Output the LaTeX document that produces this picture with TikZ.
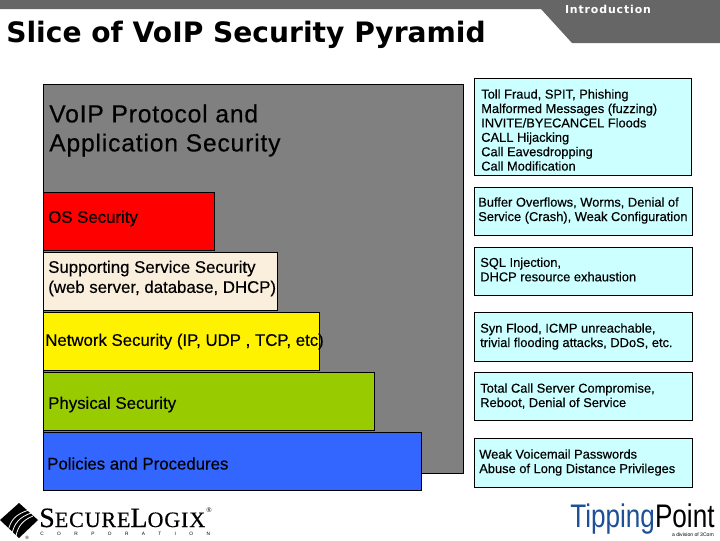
\documentclass[tikz,border=0pt]{standalone}
\usepackage{fontspec}
\setmainfont{Liberation Sans}
\newfontfamily\heavyfont[FakeBold=0.35]{Liberation Sans}
\newfontfamily\heavywide[FakeBold=0.35,LetterSpace=3.3]{Liberation Sans}
\newfontfamily\logoserif[LetterSpace=4,FakeBold=0.4]{Liberation Serif}
\newfontfamily\spacedsans[LetterSpace=280]{Liberation Sans}
\newfontfamily\introfont[LetterSpace=8]{DejaVu Sans}
\newfontfamily\titlefont{DejaVu Sans}
\newfontfamily\tipfont[FakeStretch=0.8]{Liberation Sans}
\definecolor{bargray}{RGB}{102,102,102}
\definecolor{pyrgray}{RGB}{128,128,128}
\definecolor{cream}{RGB}{250,238,220}
\definecolor{leafgreen}{RGB}{153,204,0}
\definecolor{layerblue}{RGB}{51,102,255}
\definecolor{notecyan}{RGB}{204,255,255}
\definecolor{tipblue}{RGB}{30,80,150}
\tikzset{
  layer/.style={draw=black,line width=0.75pt,anchor=north west,inner sep=0pt},
  layertext/.style={anchor=west,inner sep=0pt,align=left,font=\heavyfont\fontsize{12.6}{15}\selectfont},
  note/.style={draw=black,line width=0.5pt,fill=notecyan,anchor=north west,inner sep=0pt},
  notetext/.style={anchor=west,inner sep=0pt,align=left,font=\heavyfont\fontsize{9.65}{10.8}\selectfont}
}
\begin{document}
\begin{tikzpicture}[x=0.75pt,y=0.75pt,yscale=-1,xscale=1]
\useasboundingbox (0,0) rectangle (720,540);
%header band
\fill [bargray] (0,0) -- (720,0) -- (720,43) -- (572,43) -- (541,9) -- (0,9) -- cycle ;
\node (intro) [anchor=center,inner sep=0pt,text=white,font=\introfont\bfseries\fontsize{8.2}{10}\selectfont] at (608,9) {Introduction};
\node (title) [anchor=west,inner sep=0pt,font=\titlefont\bfseries\fontsize{21.1}{24}\selectfont] at (6,34.5) {Slice of VoIP Security Pyramid};
%pyramid
\draw [fill=pyrgray,line width=0.75pt] (43,84) rectangle (463.5,473.5);
\node (voip) [anchor=west,inner sep=0pt,align=left,font=\heavywide\fontsize{18.5}{21.8}\selectfont] at (49,130.5) {VoIP Protocol and\\Application Security};
\node (os) [layer,fill=red,minimum width=171*0.75pt,minimum height=57.5*0.75pt] at (43,192) {};
\node (ostext) [layertext] at (48,218.5) {OS Security};
\node (service) [layer,fill=cream,minimum width=234*0.75pt,minimum height=57.5*0.75pt] at (43,252) {};
\node (servicetext) [layertext] at (48,278.5) {Supporting Service Security\\(web server, database, DHCP)};
\node (network) [layer,fill=yellow,minimum width=276*0.75pt,minimum height=57.5*0.75pt] at (43,312) {};
\node (networktext) [layertext] at (45,341.5) {Network Security (IP, UDP , TCP, etc)};
\node (physical) [layer,fill=leafgreen,minimum width=331*0.75pt,minimum height=57.5*0.75pt] at (43,372) {};
\node (physicaltext) [layertext] at (48,404.5) {Physical Security};
\node (policies) [layer,fill=layerblue,minimum width=378*0.75pt,minimum height=57.5*0.75pt] at (43,432) {};
\node (policiestext) [layertext] at (47,463.5) {Policies and Procedures};
%threat notes
\node (notea) [note,minimum width=216.5*0.75pt,minimum height=96.5*0.75pt] at (474,78) {};
\node (noteatext) [notetext] at (481,130) {Toll Fraud, SPIT, Phishing\\Malformed Messages (fuzzing)\\INVITE/BYECANCEL Floods\\CALL Hijacking\\Call Eavesdropping\\Call Modification};
\node (noteb) [note,minimum width=217.5*0.75pt,minimum height=47.5*0.75pt] at (474,187) {};
\node (notebtext) [notetext] at (478,210.5) {Buffer Overflows, Worms, Denial of\\Service (Crash), Weak Configuration};
\node (notec) [note,minimum width=217.5*0.75pt,minimum height=47.5*0.75pt] at (474,247) {};
\node (notectext) [notetext] at (480,269.5) {SQL Injection,\\DHCP resource exhaustion};
\node (noted) [note,minimum width=217.5*0.75pt,minimum height=48.5*0.75pt] at (474,312) {};
\node (notedtext) [notetext] at (480,336.5) {Syn Flood, ICMP unreachable,\\trivial flooding attacks, DDoS, etc.};
\node (notee) [note,minimum width=217.5*0.75pt,minimum height=47.5*0.75pt] at (474,372) {};
\node (noteetext) [notetext] at (480,396) {Total Call Server Compromise,\\Reboot, Denial of Service};
\node (notef) [note,minimum width=217.5*0.75pt,minimum height=48.5*0.75pt] at (474,438) {};
\node (noteftext) [notetext] at (479,462.5) {Weak Voicemail Passwords\\Abuse of Long Distance Privileges};
%securelogix logo
\fill (0,520) -- (19,503) -- (38,520) -- (19,538) -- cycle ;
\draw [white,line width=0.6pt] (8,532) .. controls (10,520) and (16,514) .. (29,510) ;
\draw [white,line width=0.6pt] (12,534) .. controls (14,523) and (20,517) .. (31,513) ;
\draw [white,line width=0.6pt] (16,536) .. controls (18,526) and (23,520) .. (33,516) ;
\node (secure) [anchor=base west,inner sep=0pt,font=\logoserif\fontsize{21}{24}\selectfont] at (39,527) {S\fontsize{16.5}{24}\selectfont ECURE\fontsize{21}{24}\selectfont L\fontsize{16.5}{24}\selectfont OGIX};
\node (corp) [anchor=base west,inner sep=0pt,font=\spacedsans\fontsize{3.6}{5}\selectfont] at (40,535) {CORPORATION};
\node (reg) [anchor=center,inner sep=0pt,font=\fontsize{5}{5}\selectfont] at (209,510) {\textregistered};
\node (regsmall) [anchor=center,inner sep=0pt,font=\fontsize{3.5}{5}\selectfont] at (27,538) {\textregistered};
%tippingpoint logo
\node (tipping) [anchor=base west,inner sep=0pt,font=\tipfont\fontsize{24.5}{28}\selectfont] at (570,527) {\textcolor{tipblue}{Tipping}Point};
\node (division) [anchor=base east,inner sep=0pt,font=\fontsize{3.8}{5}\selectfont] at (714,536) {a division of 3Com};
\end{tikzpicture}
\end{document}
